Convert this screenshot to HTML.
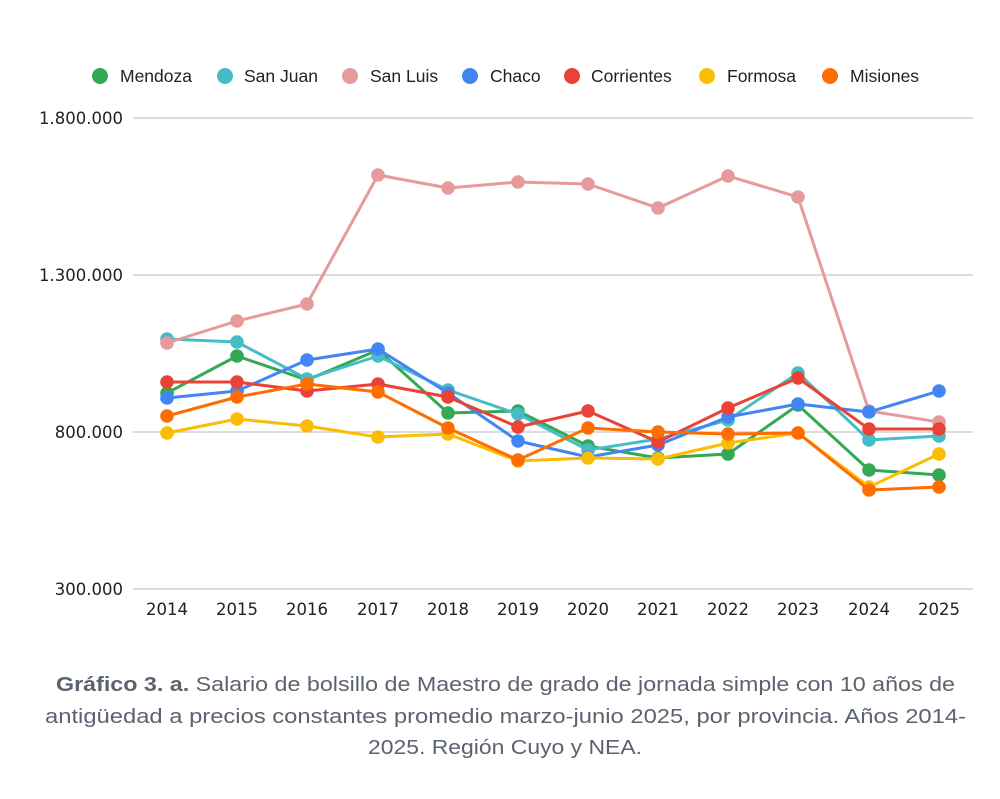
<!DOCTYPE html>
<html><head><meta charset="utf-8"><style>
html,body{margin:0;padding:0;background:#fff;}
svg{display:block;}
</style></head><body>
<svg width="1000" height="799" viewBox="0 0 1000 799" xmlns="http://www.w3.org/2000/svg">
<rect width="1000" height="799" fill="#fff"/>
<!-- legend -->
<g font-family="Liberation Sans, DejaVu Sans, sans-serif" font-size="17.5" fill="#222">
<circle cx="100" cy="76" r="8" fill="#34a853"/><text x="120" y="82">Mendoza</text>
<circle cx="225" cy="76" r="8" fill="#46bdc6"/><text x="244" y="82">San Juan</text>
<circle cx="350" cy="76" r="8" fill="#e69a9c"/><text x="370" y="82">San Luis</text>
<circle cx="470" cy="76" r="8" fill="#4285f4"/><text x="490" y="82">Chaco</text>
<circle cx="572" cy="76" r="8" fill="#ea4335"/><text x="591" y="82">Corrientes</text>
<circle cx="707" cy="76" r="8" fill="#fbbc04"/><text x="727" y="82">Formosa</text>
<circle cx="830" cy="76" r="8" fill="#ff6d01"/><text x="850" y="82">Misiones</text>
</g>
<!-- grid -->
<g stroke="#d0d0d0" stroke-width="1.5">
<line x1="133" y1="118" x2="973" y2="118"/>
<line x1="133" y1="275" x2="973" y2="275"/>
<line x1="133" y1="432" x2="973" y2="432"/>
<line x1="133" y1="589" x2="973" y2="589"/>
</g>
<g font-family="DejaVu Sans, Liberation Sans, sans-serif" font-size="16.5" fill="#222" text-anchor="end">
<text x="123" y="124">1.800.000</text>
<text x="123" y="281">1.300.000</text>
<text x="123" y="438">800.000</text>
<text x="123" y="595">300.000</text>
</g>
<g font-family="DejaVu Sans, Liberation Sans, sans-serif" font-size="16.5" fill="#222" text-anchor="middle">
<text x="167" y="615">2014</text>
<text x="237" y="615">2015</text>
<text x="307" y="615">2016</text>
<text x="378" y="615">2017</text>
<text x="448" y="615">2018</text>
<text x="518" y="615">2019</text>
<text x="588" y="615">2020</text>
<text x="658" y="615">2021</text>
<text x="728" y="615">2022</text>
<text x="798" y="615">2023</text>
<text x="869" y="615">2024</text>
<text x="939" y="615">2025</text>
</g>
<g id="series" fill="none" stroke-width="3" stroke-linejoin="round">
</g>
<script>
(function(){
var xs=[167,237,307,378,448,518,588,658,728,798,869,939];
var S=[
["#34a853",[393,356,380,350,413,411,446,458,454,405,470,475]],
["#46bdc6",[339,342,379,356,390,414,450,439,420,373,440,436]],
["#e69a9c",[343,321,304,175,188,182,184,208,176,197,411,422]],
["#4285f4",[398,391,360,349,393,441,457,445,417,404,412,391]],
["#ea4335",[382,382,391,384,397,427,411,442,408,378,429,429]],
["#fbbc04",[433,419,426,437,434,461,458,459,443,433,487,454]],
["#ff6d01",[416,397,384,392,428,460,428,432,434,433,490,487]]
];
var g=document.getElementById('series'),ns='http://www.w3.org/2000/svg';
S.forEach(function(s){
 var p=document.createElementNS(ns,'polyline');
 p.setAttribute('points',s[1].map(function(y,i){return xs[i]+','+y}).join(' '));
 p.setAttribute('stroke',s[0]);
 g.appendChild(p);
 s[1].forEach(function(y,i){
  var c=document.createElementNS(ns,'circle');
  c.setAttribute('cx',xs[i]);c.setAttribute('cy',y);c.setAttribute('r',6.8);
  c.setAttribute('fill',s[0]);c.setAttribute('stroke','none');
  g.appendChild(c);
 });
});
})();
</script>
<!-- caption -->
<g font-family="Liberation Sans, DejaVu Sans, sans-serif" font-size="20" fill="#5b6270">
<text x="56" y="691" textLength="899" lengthAdjust="spacingAndGlyphs"><tspan font-weight="bold">Gráfico 3. a.</tspan> Salario de bolsillo de Maestro de grado de jornada simple con 10 años de</text>
<text x="45" y="723" textLength="921" lengthAdjust="spacingAndGlyphs">antigüedad a precios constantes promedio marzo-junio 2025, por provincia. Años 2014-</text>
<text x="368" y="754" textLength="274" lengthAdjust="spacingAndGlyphs">2025. Región Cuyo y NEA.</text>
</g>
</svg>
</body></html>
